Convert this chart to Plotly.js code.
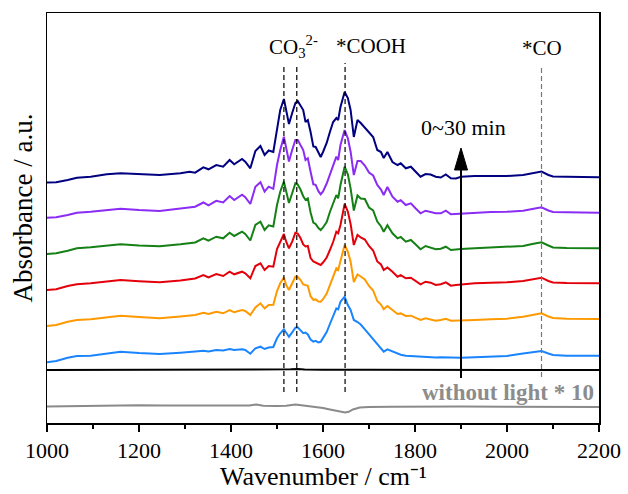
<!DOCTYPE html>
<html>
<head>
<meta charset="utf-8">
<script src="https://cdn.plot.ly/plotly-3.0.1.min.js"></script>
<style>
  html, body { margin: 0; padding: 0; background: #fff; }
  #chart { width: 628px; height: 494px; }
</style>
</head>
<body>
<div id="chart"></div>
<script>
// Wavenumber grid (cm-1) shared by the in-situ spectra
const wn = [1000,1020,1045,1065,1095,1130,1160,1200,1245,1290,
  1310,1322,1340,1351,1368,1383,1397,1407,1424,1431,
  1442,1453,1464,1473,1482,1492,1500,1507,1515,1520,
  1526,1533,1540,1545,1551,1557,1562,1567,1573,1579,
  1584,1590,1595,1600,1608,1615,1622,1629,1633,1638,
  1647,1654,1660,1667,1675,1682,1691,1700,1709,1718,
  1726,1732,1740,1751,1762,1769,1780,1791,1801,1812,
  1823,1834,1845,1856,1867,1878,1889,1900,1930,1965,
  2000,2035,2055,2075,2090,2100,2130,2200];

// Stacked absorbance (offset, a.u.), earliest at the bottom
const absT1 = [60.7,62,65.3,67,67.3,69.5,71.3,70,69,70.3,
  70.7,71.5,72.3,71.5,73,72.5,74,73,73.7,73,
  69.3,74.7,76.3,74,75.5,76,84.7,89.7,93.7,89.7,
  86.3,90.7,95.3,95.7,93.2,89.9,90.5,88.5,83.5,81.4,
  82.2,80.5,81.2,84.5,91,99,107.5,114.7,113.7,121.3,
  126.3,118,113,103,101,98.5,93.7,88.7,84.3,79,
  75.1,71.3,73.6,71.3,69,68.3,67.3,67,66.3,66,
  65.7,65.8,65.5,65.7,65.6,65.2,65,65.2,65.7,66.3,
  67,69.5,71,72,69.5,68,67.3,67.3];
const absT2 = [97,98,101.3,103,103.7,106,107.3,106,104.7,106.5,
  107.3,108,110.3,109,111.3,109.7,113,110.7,113,112,
  108,115.5,119.7,114.7,118,118.3,132,139.7,145.5,138,
  133,139.7,146.3,146,143.2,138.5,138,137.2,126.8,123.2,
  123.6,121.5,121.3,123.8,129.5,137.5,146,154.7,153,163,
  178,171.3,161.3,141,148.5,146.5,143.5,137,132.5,122,
  118.5,113.7,117,113,109,109.6,107,107.3,105.3,103,
  104.7,103.7,102.3,103,104.3,102.3,102.3,102.5,103,103.7,
  104.3,106.3,108,109.7,106.5,105,104.3,104];
const absT3 = [133,133.7,137,138.7,139.7,141.5,143,141.8,140.7,142.5,
  143.7,144.5,148,145.7,149,147,151.3,148.7,151.3,149.7,
  144.7,157,159.7,153,157,156.3,174,181.3,189,181.3,
  174.7,181.3,190.3,189.5,185,178.5,176.5,177,165,161.5,
  160.5,158.9,158,160.5,165.5,173,181,191.3,189.7,198,
  219,211.5,199,178,188,185.5,183.5,177,172.5,161.5,
  158.5,153,155.6,151.3,146.3,147.9,144.7,145.3,142,138.7,
  141.3,140.3,138,138.7,140.7,137.3,138,138.5,139.7,140.3,
  140.7,142,143.8,145.3,142,140.5,140,139.7];
const absT4 = [169,169.7,172.3,174.7,175.7,177.5,178.7,177.5,176.7,178.7,
  180,180.5,184.7,182.3,186.3,184.7,190.3,187,191.3,189,
  182.5,198,201.3,193,197.7,196.5,218,231.3,241.3,231.3,
  220,229.7,239.7,238.5,233.5,226.8,223.2,224.7,210.5,200.3,
  199,195,193,195.5,201,211,220.5,228,224.7,238,
  256.3,248.7,234.7,212.5,227.5,224.5,224,215.5,212.5,201.5,
  196.8,191.3,197.7,189.7,184.7,186.1,181.3,183,178.7,173.7,
  177,175.7,173.7,174.3,176.3,173,173.7,174,174.7,175.3,
  175.7,177,179,180.7,177.5,175.5,175,174.7];
const absT5 = [205.3,205.7,208,210.3,211.3,213,214.3,213,212,214.5,
  215.7,216.3,220.5,217.7,222.2,220.5,227,223,228.3,225.8,
  219,236.3,240.8,231.3,236.3,234.2,258,273,286.3,274.7,
  261.5,273,283,283,278,273,263,264.7,251.3,238.7,
  238.2,231.8,228.7,231.5,239.5,249,259,266.3,263,278,
  293,284.7,271.3,248,262,262,257.5,250.5,247.5,238,
  233.5,228,236,226.3,221.3,222.8,218,219.7,214.7,209.7,
  212.3,211.3,209.7,209.7,212.3,208.7,209,209.5,210.7,211,
  211.3,212.3,214,215.7,212.5,211,210.7,210.3];
const absT6 = [240.5,240.7,243,245.3,246.3,248.7,249.7,248.7,248,249.7,
  251.3,250.3,255.7,253.7,258,256.3,263,258.7,264,261.3,
  254.7,272,277,268,272.5,271,293,313,324,311,
  299,310,320,322,317,313,301,303,291,276.5,
  276,270,266,271,280,291,301,305,303,316,
  331,325,313,286,303,300,295,290,286,273,
  271,265,271,261,258,259.7,254.7,256.3,251.3,246.3,
  249,248.5,246.3,245.5,248.5,244.7,244.5,246.3,247,247,
  247,248,249.5,251.5,248,246.5,246.3,245.7];

// Initial (0 min) spectrum
const wnZero = [1000,1400,1500,1530,1545,1560,1600,1700,2200];
const absZero = [53,53,53.2,53.7,54,53.5,53.2,53.3,53];

// Dark control, magnified x10
const wnDark = [1000,1050,1100,1150,1200,1250,1300,1350,1400,1440,1455,1470,1500,1520,1540,1560,
  1580,1600,1615,1630,1640,1648,1656,1665,1680,1700,1750,1800,1900,2000,2100,2200];
const absDark = [16.5,17,17.5,18,17.8,17.5,17.5,17.3,17.5,17.6,18.6,17.3,17,17.2,18.5,17.4,
  16.5,15,13.5,12,11,10.5,11.2,13.5,15.5,16,16.2,16.5,16.5,16.3,16.2,16];

const series = [absT1, absT2, absT3, absT4, absT5, absT6];
const colors = ['#1a84ff', '#ff9900', '#e3000b', '#158015', '#8b2cf5', '#000080'];

// Band positions and labels
const bandCO3a = 1515, bandCO3b = 1543, bandCOOH = 1648, bandCO = 2075;

const serif = 'Liberation Serif, Times New Roman, serif';

const traces = series.map((ys, i) => ({
  x: wn, y: ys, type: 'scatter', mode: 'lines',
  line: { color: colors[i], width: 2 }, hoverinfo: 'skip', showlegend: false
}));
traces.unshift({
  x: wnZero, y: absZero, type: 'scatter', mode: 'lines',
  line: { color: '#000', width: 2 }, showlegend: false, hoverinfo: 'skip'
});
traces.unshift({
  x: wnDark, y: absDark, type: 'scatter', mode: 'lines',
  line: { color: '#8a8a8a', width: 2 }, showlegend: false, hoverinfo: 'skip'
});

const dash = (x, y0, y1, color) => ({
  type: 'line', xref: 'x', yref: 'y', x0: x, x1: x, y0: y0, y1: y1,
  line: { color: color, width: 1.2, dash: '5px,3px' }, layer: 'above'
});

const layout = {
  width: 628, height: 494,
  margin: { l: 47, r: 29, t: 13, b: 71 },
  paper_bgcolor: '#fff', plot_bgcolor: '#fff',
  font: { family: serif, color: '#000' },
  xaxis: {
    range: [1000, 2200], dtick: 200, tick0: 1000,
    ticks: 'outside', ticklen: 7, tickwidth: 1.5, tickcolor: '#000',
    minor: { dtick: 100, ticks: 'outside', ticklen: 4, tickwidth: 1.5, tickcolor: '#000' },
    showline: true, linecolor: '#000', linewidth: 1.5, mirror: true,
    showgrid: false, zeroline: false,
    tickfont: { family: serif, size: 22, color: '#000' }
  },
  yaxis: {
    range: [0, 410], showticklabels: false, ticks: '',
    showline: true, linecolor: '#000', linewidth: 1.5, mirror: true,
    showgrid: false, zeroline: false
  },
  shapes: [
    dash(bandCO3a, 31, 358, '#000'),
    dash(bandCO3b, 31, 358, '#000'),
    dash(bandCOOH, 31, 360, '#000'),
    dash(bandCO, 46, 358, '#777'),
    { type: 'line', xref: 'x', yref: 'y', x0: 1900, x1: 1900, y0: 45, y1: 258,
      line: { color: '#000', width: 2 }, layer: 'above' },
    { type: 'path', xref: 'x', yref: 'y', xsizemode: 'pixel', ysizemode: 'pixel',
      xanchor: 1900, yanchor: 275, path: 'M-6.5,-22 L6.5,-22 L0,0 Z',
      fillcolor: '#000', line: { color: '#000', width: 1 }, layer: 'above' }
  ],
  annotations: [
    { text: 'CO<sub>3</sub><sup>2-</sup>', x: 1536, y: 377, xref: 'x', yref: 'y',
      showarrow: false, font: { family: serif, size: 21, color: '#000' } },
    { text: '*COOH', x: 1623, y: 377, xref: 'x', yref: 'y', xanchor: 'left',
      showarrow: false, font: { family: serif, size: 21, color: '#000' } },
    { text: '*CO', x: bandCO, y: 375, xref: 'x', yref: 'y',
      showarrow: false, font: { family: serif, size: 21, color: '#000' } },
    { text: '0~30 min', x: 1905, y: 296, xref: 'x', yref: 'y',
      showarrow: false, font: { family: serif, size: 22, color: '#000' } },
    { text: '<b>without light * 10</b>', x: 2193, y: 31, xref: 'x', yref: 'y', xanchor: 'right',
      showarrow: false, font: { family: serif, size: 23, color: '#8c8c8c' } },
    { text: 'Absorbance / a.u.', textangle: -90, x: -0.0436, y: 0.5256, xref: 'paper', yref: 'paper',
      xanchor: 'center', yanchor: 'middle',
      showarrow: false, font: { family: serif, size: 27, color: '#000' } },
    { text: 'Wavenumber / cm\u207B\u00B9', x: 0.5, y: -0.1695, xref: 'paper', yref: 'paper',
      xanchor: 'center', yanchor: 'bottom', borderpad: 0,
      showarrow: false, font: { family: serif, size: 26, color: '#000' } }
  ]
};

Plotly.newPlot('chart', traces, layout, { displayModeBar: false, staticPlot: true });
</script>
</body>
</html>
